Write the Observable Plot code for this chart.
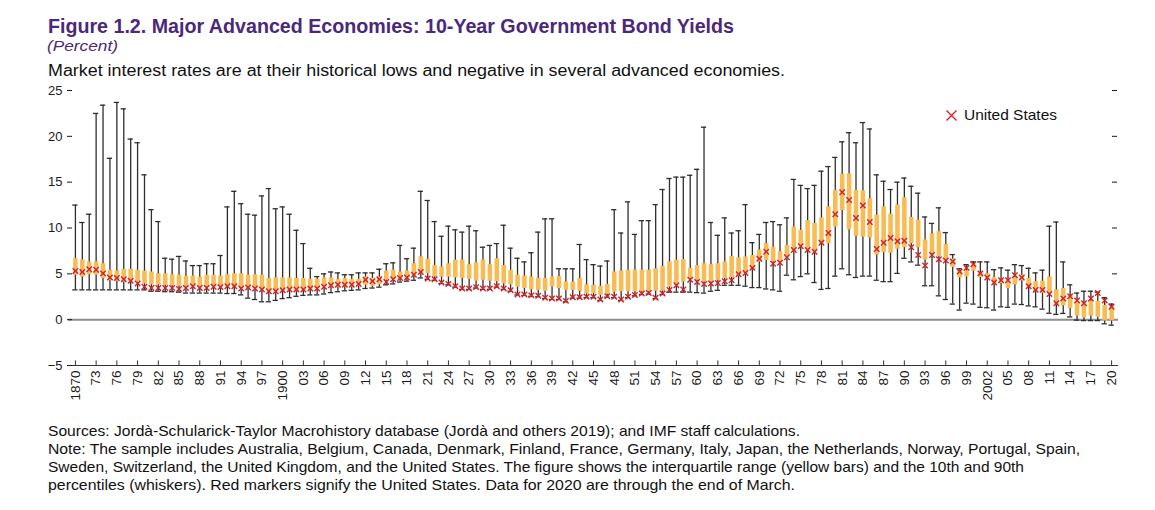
<!DOCTYPE html>
<html>
<head>
<meta charset="utf-8">
<script src="https://cdn.jsdelivr.net/npm/d3@7"></script>
<script src="https://cdn.jsdelivr.net/npm/@observablehq/plot@0.6"></script>
<style>
  html, body { margin: 0; padding: 0; background: #fff; }
  body { width: 1155px; height: 510px; position: relative; overflow: hidden;
         font-family: "Liberation Sans", Arial, Helvetica, sans-serif; color: #1a1a1a; }
  .abs { position: absolute; white-space: nowrap; }
  .fit { display: inline-block; transform-origin: 0 50%; white-space: nowrap; }
  #title { left: 48px; top: 15px; font-size: 19.5px; font-weight: bold; color: #4b2879; }
  #unit { left: 47px; top: 38px; font-size: 14.5px; font-style: italic; color: #4b2879; }
  #sub { left: 48px; top: 62px; font-size: 16px; color: #111; }
  #chart { left: 0; top: 82px; }
  #legend { left: 945px; top: 107px; font-size: 14.5px; color: #111; display: flex; align-items: center; gap: 6px; }
  #caption { left: 48px; top: 422px; font-size: 14.5px; line-height: 18px; color: #111; }
  #caption .fit { display: block; width: max-content; }
</style>
</head>
<body>
<div id="title" class="abs"><span class="fit" data-w="686">Figure 1.2. Major Advanced Economies: 10-Year Government Bond Yields</span></div>
<div id="unit" class="abs"><span class="fit" data-w="71">(Percent)</span></div>
<div id="sub" class="abs"><span class="fit" data-w="737">Market interest rates are at their historical lows and negative in several advanced economies.</span></div>
<div id="chart" class="abs"></div>
<div id="legend" class="abs"><svg width="13" height="13" viewBox="0 0 13 13"><path d="M1.5,1.5L11.5,11.5M11.5,1.5L1.5,11.5" stroke="#d2232a" stroke-width="1.4"/></svg><span class="fit" data-w="93">United States</span></div>
<div id="caption" class="abs">
<span class="fit" data-w="752">Sources: Jordà-Schularick-Taylor Macrohistory database (Jordà and others 2019); and IMF staff calculations.</span>
<span class="fit" data-w="1032">Note: The sample includes Australia, Belgium, Canada, Denmark, Finland, France, Germany, Italy, Japan, the Netherlands, Norway, Portugal, Spain,</span>
<span class="fit" data-w="976">Sweden, Switzerland, the United Kingdom, and the United States. The figure shows the interquartile range (yellow bars) and the 10th and 90th</span>
<span class="fit" data-w="747">percentiles (whiskers). Red markers signify the United States. Data for 2020 are through the end of March.</span>
</div>
<script>
// Categories: years 1870–2020
const years = d3.range(1870, 2021);
// Axis tick years (every 3 years)
const tickYears = d3.range(1870, 2021, 3);
const yTicks = [-5, 0, 5, 10, 15, 20, 25];

// 90th percentile (top whisker)
const p90 = [
  12.5, 10.6, 11.5, 22.5, 23.4, 17.6, 23.7, 23.0, 19.7, 19.3,
  15.8, 12.0, 10.7, 6.7, 6.6, 6.9, 6.4, 5.9, 5.9, 6.1,
  6.1, 7.0, 12.3, 14.0, 12.65, 11.5, 11.4, 13.5, 14.3, 12.1,
  12.3, 11.5, 9.75, 8.3, 5.6, 4.7, 5.0, 5.2, 5.1, 4.9,
  4.9, 5.1, 5.1, 5.1, 5.5, 6.1, 6.2, 8.1, 6.65, 7.8,
  14.0, 13.0, 10.7, 9.1, 10.2, 9.8, 9.55, 10.2, 9.7, 7.9,
  8.1, 8.3, 10.3, 7.8, 6.7, 6.3, 7.3, 9.55, 11.0, 11.0,
  5.55, 5.55, 5.55, 8.2, 6.55, 6.0, 5.85, 6.4, 12.0, 9.45,
  12.85, 9.3, 10.8, 10.8, 12.55, 14.2, 15.4, 15.55, 15.55, 15.75,
  16.4, 21.0, 10.6, 9.2, 11.1, 9.45, 9.7, 12.55, 8.4, 9.3,
  10.6, 10.7, 10.35, 11.1, 15.3, 14.65, 14.3, 14.65, 16.2, 16.7,
  17.7, 19.4, 20.4, 19.3, 21.5, 20.8, 15.8, 15.1, 14.2, 15.0,
  15.45, 14.55, 13.8, 11.2, 10.5, 12.2, 9.5, 7.1, 5.55, 6.0,
  6.3, 6.3, 6.3, 5.45, 5.65, 5.4, 6.0, 5.9, 5.6, 5.1,
  5.4, 10.2, 10.65, 6.3, 3.8, 2.9, 3.1, 3.1, 3.0, 2.4,
  1.7
];
// 75th percentile (top of yellow bar)
const p75 = [
  6.65, 6.5, 6.3, 6.3, 6.1, 5.4, 5.3, 5.5, 5.5, 5.4,
  5.3, 5.2, 5.0, 5.0, 4.9, 4.85, 4.75, 4.75, 4.65, 4.85,
  4.85, 4.75, 4.9, 5.0, 5.0, 4.85, 4.9, 4.85, 4.5, 4.55,
  4.55, 4.55, 4.5, 4.5, 4.4, 4.4, 4.55, 4.55, 4.4, 4.5,
  4.4, 4.4, 4.65, 4.5, 4.65, 5.3, 5.4, 5.2, 5.3, 6.1,
  6.85, 6.6, 5.9, 5.75, 6.1, 6.5, 6.5, 6.0, 6.2, 6.5,
  6.0, 6.65, 5.9, 5.4, 4.85, 4.75, 4.65, 4.5, 4.5, 4.65,
  4.7, 4.1, 4.1, 4.5, 3.8, 3.75, 3.65, 3.85, 5.2, 5.3,
  5.4, 5.4, 5.4, 5.4, 5.55, 5.8, 6.3, 6.5, 6.55, 5.6,
  5.9, 6.1, 6.0, 6.1, 6.3, 6.9, 6.75, 6.85, 7.0, 7.6,
  8.3, 7.9, 7.4, 8.1, 10.1, 9.75, 10.8, 10.5, 11.1, 12.3,
  14.1, 15.85, 15.9, 14.1, 14.05, 13.2, 11.4, 12.3, 11.5, 12.5,
  13.3, 11.15, 10.85, 8.7, 9.35, 9.6, 8.2, 6.6, 5.4, 5.35,
  6.0, 5.1, 5.0, 4.6, 4.4, 4.25, 4.6, 4.85, 4.5, 4.15,
  4.2, 4.65, 3.25, 3.4, 2.6, 1.95, 1.8, 2.0, 2.0, 1.55,
  1.4
];
// 25th percentile (bottom of yellow bar)
const p25 = [
  4.85, 4.65, 4.9, 4.85, 4.5, 4.3, 4.2, 4.1, 4.1, 4.0,
  3.9, 3.8, 3.8, 3.75, 3.7, 3.65, 3.55, 3.6, 3.55, 3.55,
  3.55, 3.55, 3.55, 3.55, 3.45, 3.4, 3.45, 3.2, 3.0, 3.05,
  3.05, 3.2, 3.05, 3.2, 3.27, 3.4, 3.55, 3.55, 3.55, 3.6,
  3.55, 3.65, 3.75, 3.65, 3.8, 4.3, 4.4, 4.4, 4.5, 4.8,
  5.0, 5.0, 4.65, 4.65, 4.65, 4.55, 4.5, 4.4, 4.2, 4.3,
  4.2, 4.15, 3.9, 3.8, 3.55, 3.4, 3.27, 3.2, 3.1, 3.55,
  3.4, 3.2, 3.2, 3.1, 2.8, 2.85, 2.65, 2.75, 3.0, 3.05,
  3.05, 3.05, 3.05, 3.05, 3.1, 3.1, 3.55, 3.75, 4.1, 4.5,
  4.3, 4.1, 4.1, 4.3, 4.5, 4.6, 4.7, 5.0, 5.45, 6.3,
  6.45, 6.3, 6.3, 6.85, 7.4, 8.1, 7.6, 7.4, 8.2, 8.3,
  10.1, 11.9, 9.8, 9.1, 9.0, 8.9, 7.05, 7.3, 7.25, 7.7,
  7.85, 8.3, 7.85, 6.5, 7.2, 6.9, 6.4, 5.7, 4.55, 4.65,
  5.3, 4.6, 4.4, 3.9, 3.95, 3.4, 3.8, 4.25, 3.5, 3.05,
  2.9, 2.85, 1.6, 1.5, 1.2, 0.4, 0.2, 0.4, 0.25, -0.15,
  -0.15
];
// 10th percentile (bottom whisker)
const p10 = [
  3.25, 3.25, 3.25, 3.25, 3.25, 3.25, 3.25, 3.25, 3.25, 3.25,
  3.25, 3.1, 3.1, 3.05, 3.05, 3.0, 2.9, 2.9, 2.9, 2.9,
  2.9, 2.9, 2.85, 2.85, 2.7, 2.35, 2.2, 1.95, 1.95, 2.1,
  2.3, 2.4, 2.55, 2.65, 2.7, 2.7, 2.8, 2.95, 3.05, 3.15,
  3.2, 3.25, 3.4, 3.45, 3.55, 3.8, 3.9, 4.1, 4.2, 4.3,
  4.55, 4.4, 4.3, 3.95, 3.8, 3.55, 3.3, 3.3, 3.45, 3.3,
  3.3, 3.55, 3.3, 3.1, 2.7, 2.65, 2.55, 2.5, 2.3, 2.2,
  2.2, 1.95, 2.35, 2.35, 2.4, 2.4, 2.1, 2.45, 2.4, 2.1,
  2.4, 2.6, 2.75, 2.8, 2.3, 2.75, 3.0, 3.0, 3.0, 3.0,
  2.95, 2.9, 3.1, 3.2, 3.75, 3.75, 3.75, 3.65, 3.5, 3.5,
  3.35, 3.25, 3.1, 4.85, 4.35, 4.7, 5.0, 4.05, 3.3, 3.4,
  4.75, 5.55, 4.9, 4.6, 4.75, 4.75, 4.3, 4.15, 4.15, 5.05,
  6.7, 6.3, 5.95, 3.7, 3.7, 2.6, 2.2, 1.7, 1.05, 1.8,
  1.7, 1.35, 1.3, 1.05, 1.4, 1.35, 1.7, 1.65, 1.5, 1.4,
  1.15, 0.7, 0.58, 0.68, 0.3, -0.05, -0.1, -0.1, -0.1, -0.45,
  -0.6
];
// United States (red markers)
const us = [
  5.3, 5.2, 5.5, 5.45, 5.05, 4.6, 4.55, 4.4, 4.25, 3.95,
  3.6, 3.45, 3.45, 3.45, 3.45, 3.35, 3.45, 3.65, 3.45, 3.45,
  3.6, 3.55, 3.65, 3.65, 3.4, 3.5, 3.4, 3.3, 3.1, 3.1,
  3.2, 3.3, 3.3, 3.3, 3.4, 3.4, 3.6, 3.75, 3.8, 3.8,
  3.8, 3.9, 4.35, 4.2, 4.4, 4.1, 4.4, 4.55, 4.6, 4.9,
  5.2, 4.5, 4.4, 4.05, 3.9, 3.65, 3.4, 3.4, 3.55, 3.4,
  3.4, 3.65, 3.4, 3.2, 2.75, 2.75, 2.65, 2.6, 2.4, 2.3,
  2.3, 2.05, 2.45, 2.45, 2.5, 2.5, 2.2, 2.55, 2.5, 2.2,
  2.5, 2.7, 2.85, 2.9, 2.4, 2.85, 3.25, 3.75, 3.3, 4.35,
  4.1, 3.9, 3.95, 4.0, 4.2, 4.3, 4.95, 5.1, 5.65, 6.65,
  7.4, 6.1, 6.2, 6.8, 7.6, 8.0, 7.6, 7.4, 8.4, 9.45,
  11.5, 13.9, 13.05, 11.1, 12.45, 10.65, 7.7, 8.4, 8.9, 8.55,
  8.6, 7.9, 7.05, 5.9, 7.05, 6.6, 6.45, 6.35, 5.25, 5.65,
  6.05, 5.05, 4.6, 4.05, 4.3, 4.3, 4.85, 4.6, 3.65, 3.25,
  3.25, 2.8, 1.8, 2.3, 2.55, 2.1, 1.8, 2.3, 2.9, 2.1,
  1.4
];

const rows = years.map((year, i) => ({year, p10: p10[i], p25: p25[i], p75: p75[i], p90: p90[i], us: us[i]}));

const yearFmt = d => (d === 1870 || d === 1900 || d === 2002) ? String(d) : String(d % 100).padStart(2, "0");
const capHalf = 0.38;
const font = '"Liberation Sans", Arial, Helvetica, sans-serif';

const chart = Plot.plot({
  width: 1155,
  height: 330,
  marginTop: 8,
  marginLeft: 68,
  marginRight: 37,
  marginBottom: 47,
  style: {fontFamily: font, fontSize: "13px", color: "#1a1a1a", background: "transparent"},
  x: {type: "linear", domain: [1869, 2021]},
  y: {domain: [-5, 25]},
  marks: [
    Plot.ruleY([0], {stroke: "#8c8c8c", strokeWidth: 2}),
    Plot.ruleY([-5], {stroke: "#333", strokeWidth: 1}),
    Plot.ruleX(tickYears, {x: d => d, y1: -5, y2: -4.5, stroke: "#333", strokeWidth: 1}),
    Plot.axisX({ticks: tickYears, tickFormat: yearFmt, tickRotate: -90, tickSize: 0, tickPadding: 5, label: null, fontSize: 13.5}),
    Plot.axisY({anchor: "left", ticks: yTicks, tickSize: 5, tickPadding: 5, dx: 4, label: null, fontSize: 13}),
    Plot.axisY({anchor: "right", ticks: [5, 10, 15, 20, 25], tickSize: 5, dx: -7, tickFormat: () => "", label: null}),
    // whiskers
    Plot.ruleX(rows, {x: "year", y1: "p10", y2: "p90", stroke: "#2e2e2e", strokeWidth: 1.3}),
    Plot.ruleY(rows, {y: "p90", x1: d => d.year - capHalf, x2: d => d.year + capHalf, stroke: "#2e2e2e", strokeWidth: 1.3}),
    Plot.ruleY(rows, {y: "p10", x1: d => d.year - capHalf, x2: d => d.year + capHalf, stroke: "#2e2e2e", strokeWidth: 1.3}),
    // interquartile bars
    Plot.ruleX(rows, {x: "year", y1: "p25", y2: "p75", stroke: "#f9bc55", strokeWidth: 4.6}),
    // United States markers
    Plot.dot(rows, {x: "year", y: "us", symbol: "times", r: 2.6, stroke: "#d2232a", strokeWidth: 1.4})
  ]
});
document.getElementById("chart").appendChild(chart);

// Fit each text line to the width it takes in the reference
document.querySelectorAll(".fit").forEach(el => {
  const target = +el.dataset.w;
  const w = el.getBoundingClientRect().width;
  if (w > 0 && target > 0) el.style.transform = `scaleX(${target / w})`;
});
</script>
</body>
</html>
